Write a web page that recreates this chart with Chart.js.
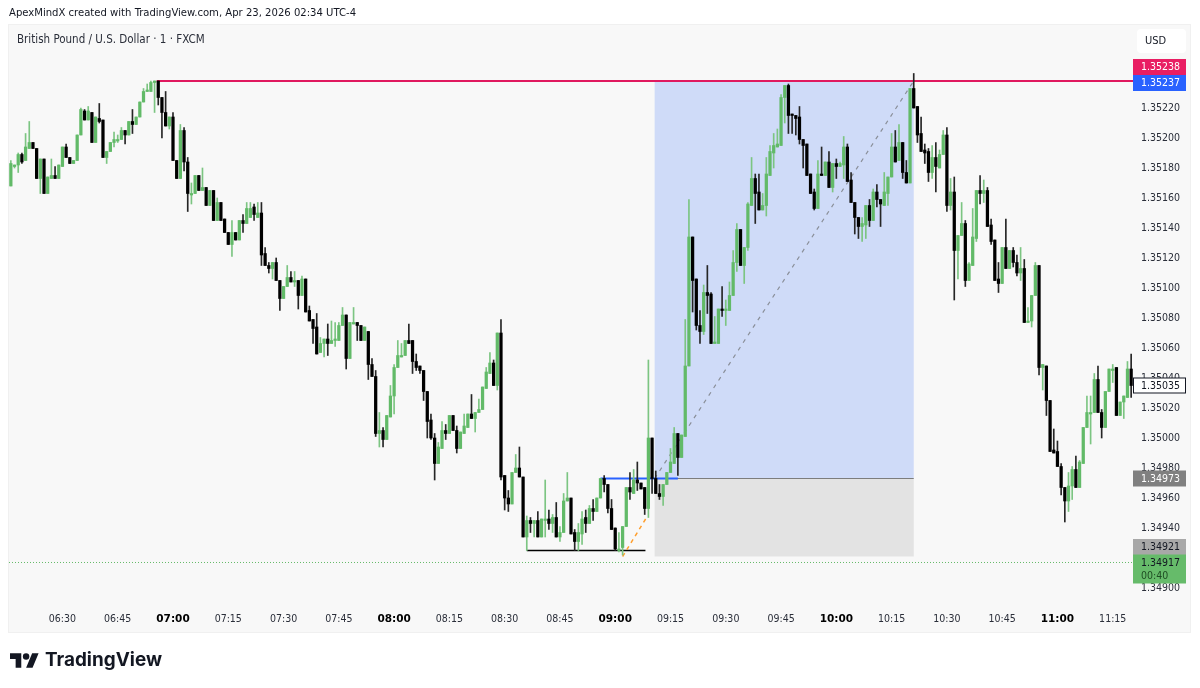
<!DOCTYPE html>
<html>
<head>
<meta charset="utf-8">
<script src="https://cdn.jsdelivr.net/npm/chart.js@4/dist/chart.umd.min.js"></script>
<style>
html,body{margin:0;padding:0;background:#fff;width:1200px;height:688px;overflow:hidden}
#c{position:absolute;left:0;top:0}
.t{position:absolute;white-space:nowrap;font-family:"DejaVu Sans Condensed","DejaVu Sans",sans-serif;color:#131722}
#hdr{left:9px;top:6px;font-size:11.2px;line-height:14px}
#ttl{left:17px;top:32px;font-size:11.5px;line-height:14px;color:#2a2e39}
#logoT{left:45px;top:646px;font:700 18.9px/28px Inter,sans-serif;color:#131722}
#logoI{position:absolute;left:10px;top:653px}
</style>
</head>
<body>
<canvas id="c" width="1200" height="688"></canvas>
<div class="t" id="hdr">ApexMindX created with TradingView.com, Apr 23, 2026 02:34 UTC-4</div>
<div class="t" id="ttl">British Pound / U.S. Dollar · 1 · FXCM</div>
<svg id="logoI" width="29" height="15" viewBox="0 4 36 18"><path fill="#131722" d="M14 22H7V11H0V4h14v18zM28 22h-8l7.5-18h8L28 22z"/><circle fill="#131722" cx="20" cy="8" r="4"/></svg>
<div class="t" id="logoT">TradingView</div>
<script>
// Prices in pipettes (1 = 0.00001), one per 1-minute candle starting 06:16
const firstMinute = 6*60+16;
const opens = [
135168,135181,135182,135189,135185,135193,135197,135193,135173,135186,
135163,135173,135175,135173,135181,135194,135187,135183,135185,135202,
135218,135212,135217,135197,135213,135212,135187,135191,135197,135198,
135199,135205,135202,135211,135209,135214,135224,135231,135231,135237,
135238,135227,135217,135208,135214,135185,135173,135205,135184,135162,
135163,135175,135165,135167,135155,135165,135145,135157,135146,135137,
135129,135137,135132,135145,135143,135147,135154,135147,135150,135123,
135115,135113,135117,135105,135093,135101,135107,135104,135105,135095,
135106,135085,135079,135074,135057,135063,135066,135063,135065,135065,
135075,135082,135053,135076,135077,135075,135065,135071,135049,135041,
135003,135005,134999,135014,135028,135047,135054,135055,135065,135065,
135051,135048,135045,135031,135012,135000,134983,134993,135005,135003,
135015,135005,134993,135003,135007,135016,135013,135017,135019,135033,
135043,135050,135035,135070,134975,134960,134956,134977,134980,134974,
134934,134945,134943,134945,134934,134945,134946,134943,134947,134934,
134937,134958,134960,134937,134931,134936,134947,134943,134953,134951,
134960,134973,134969,134953,134940,134925,134927,134941,134967,134963,
134972,134970,134967,134953,135000,134973,134963,134961,134969,134977,
134983,135003,134987,135001,135048,135134,135106,135075,135071,135097,
135096,135063,135063,135086,135085,135085,135095,135117,135139,135115,
135127,135155,135173,135164,135152,135155,135175,135190,135194,135195,
135227,135235,135216,135215,135214,135199,135196,135176,135164,135153,
135176,135175,135184,135167,135183,135181,135182,135194,135172,135157,
135147,135141,135142,135155,135145,135164,135159,135155,135163,135174,
135194,135185,135197,135177,135170,135233,135221,135203,135192,135191,
135177,135187,135180,135189,135202,135155,135164,135125,135135,135143,
135105,135115,135133,135165,135163,135165,135142,135132,135106,135103,
135127,135113,135125,135117,135110,135113,135077,135078,135095,135115,
135047,135048,135025,134992,134991,134981,134967,134958,134968,134979,
134967,134983,135007,135016,135017,135039,135017,135007,135031,135045,
135047,135015,135024,135027,135046];
const closes = [
135183,135182,135189,135184,135194,135197,135193,135173,135186,135163,
135174,135175,135173,135182,135194,135187,135183,135185,135202,135219,
135212,135218,135197,135214,135211,135187,135191,135197,135199,135199,
135205,135202,135211,135209,135214,135224,135231,135232,135237,135238,
135227,135217,135208,135214,135185,135173,135205,135184,135163,135163,
135175,135165,135167,135155,135165,135145,135157,135145,135137,135129,
135137,135132,135145,135143,135153,135153,135149,135150,135122,135115,
135113,135117,135105,135093,135101,135107,135104,135105,135095,135106,
135084,135078,135073,135056,135063,135066,135063,135065,135066,135075,
135082,135053,135077,135077,135075,135065,135074,135049,135041,135003,
135005,134999,135015,135028,135047,135055,135055,135065,135063,135051,
135047,135045,135031,135011,135000,134983,134994,135005,135003,135015,
135005,134993,135004,135008,135016,135013,135017,135019,135034,135044,
135050,135035,135070,134974,134960,134956,134977,134980,134974,134934,
134945,134943,134945,134934,134946,134946,134943,134947,134934,134937,
134958,134960,134936,134931,134937,134946,134943,134953,134951,134960,
134973,134969,134953,134939,134926,134926,134941,134967,134964,134972,
134970,134966,134953,135000,134973,134963,134961,134969,134977,134984,
135003,134987,135002,135048,135134,135105,135075,135071,135097,135095,
135063,135064,135086,135085,135086,135095,135117,135139,135115,135127,
135156,135173,135163,135152,135155,135176,135191,135195,135196,135227,
135235,135215,135215,135213,135199,135195,135175,135163,135153,135176,
135175,135184,135167,135183,135181,135183,135194,135171,135157,135147,
135141,135143,135155,135145,135164,135159,135156,135164,135174,135194,
135184,135197,135177,135170,135233,135220,135202,135191,135190,135177,
135187,135181,135189,135202,135155,135164,135125,135135,135143,135105,
135116,135134,135165,135163,135165,135141,135131,135105,135103,135127,
135113,135125,135117,135110,135113,135077,135078,135095,135115,135047,
135049,135025,134991,134990,134981,134967,134958,134968,134979,134967,
134984,135007,135017,135017,135039,135017,135007,135031,135046,135046,
135015,135024,135028,135046,135035];
const highs = [
135185,135182,135190,135190,135203,135211,135197,135193,135186,135186,
135174,135186,135181,135182,135194,135196,135187,135185,135202,135220,
135219,135221,135217,135214,135223,135212,135191,135197,135204,135202,
135207,135205,135211,135219,135214,135224,135233,135236,135238,135238,
135238,135227,135231,135214,135217,135185,135209,135207,135187,135170,
135175,135175,135180,135167,135165,135165,135160,135157,135146,135137,
135145,135137,135145,135149,135157,135157,135156,135157,135157,135127,
135117,135117,135120,135105,135101,135115,135111,135111,135105,135108,
135106,135088,135079,135083,135067,135066,135076,135078,135077,135077,
135087,135082,135077,135087,135077,135075,135074,135071,135053,135045,
135017,135007,135015,135035,135049,135065,135063,135065,135076,135065,
135056,135048,135045,135031,135016,135003,134997,135011,135009,135015,
135015,135008,135004,135016,135016,135029,135017,135026,135034,135047,
135057,135052,135070,135079,134975,134965,134977,134989,134994,134974,
134948,134947,134945,134951,134946,134972,134952,134949,134957,134941,
134963,134977,134960,134939,134943,134951,134952,134955,134959,134960,
134973,134975,134969,134959,134940,134937,134941,134967,134977,134979,
134984,134970,134967,135052,135000,134978,134969,134969,134977,134993,
135007,135003,135002,135079,135159,135134,135106,135085,135102,135115,
135097,135081,135086,135101,135092,135104,135125,135143,135139,135127,
135157,135187,135176,135176,135163,135187,135195,135203,135206,135229,
135235,135236,135216,135215,135221,135199,135196,135176,135166,135185,
135194,135184,135191,135183,135186,135184,135201,135196,135177,135157,
135147,135147,135155,135159,135166,135169,135159,135177,135174,135203,
135205,135209,135197,135185,135233,135243,135221,135214,135196,135193,
135195,135197,135192,135205,135207,135173,135174,135135,135157,135145,
135117,135153,135165,135175,135172,135167,135146,135132,135117,135127,
135146,135125,135127,135122,135127,135119,135087,135095,135117,135115,
135049,135048,135025,135006,134998,134983,134967,134977,134981,134988,
134985,135007,135028,135028,135043,135048,135019,135031,135046,135049,
135047,135024,135028,135051,135056];
const lows = [
135168,135180,135177,135183,135185,135193,135193,135173,135163,135163,
135163,135173,135173,135173,135181,135187,135183,135183,135185,135202,
135212,135212,135197,135197,135210,135187,135183,135191,135194,135197,
135199,135196,135202,135203,135209,135214,135224,135231,135231,135217,
135222,135200,135208,135206,135185,135173,135173,135178,135151,135156,
135163,135165,135165,135155,135155,135145,135145,135145,135137,135129,
135121,135132,135132,135137,135143,135147,135145,135147,135115,135115,
135110,135106,135105,135085,135093,135101,135104,135101,135086,135095,
135084,135078,135063,135056,135057,135054,135055,135063,135061,135065,
135075,135046,135053,135076,135065,135065,135065,135039,135041,135001,
134994,134994,134999,135014,135016,135047,135054,135055,135063,135043,
135045,135043,135025,135000,134999,134972,134983,134993,134999,135003,
135005,134990,134993,135003,135007,135013,135004,135017,135019,135033,
135043,135035,135032,134972,134952,134951,134956,134977,134974,134934,
134925,134937,134934,134934,134934,134934,134939,134937,134934,134931,
134937,134958,134936,134925,134925,134929,134937,134943,134945,134951,
134960,134964,134950,134939,134925,134924,134922,134941,134959,134963,
134965,134966,134949,134947,134963,134963,134959,134955,134969,134977,
134983,134975,134987,135001,135048,135084,135072,135063,135069,135083,
135063,135063,135063,135081,135075,135085,135095,135111,135115,135103,
135125,135155,135143,135152,135152,135148,135175,135180,135194,135195,
135210,135203,135203,135202,135196,135180,135175,135163,135152,135153,
135175,135175,135167,135164,135173,135181,135173,135171,135157,135136,
135133,135131,135133,135141,135145,135154,135141,135155,135155,135174,
135184,135185,135173,135170,135170,135220,135197,135191,135183,135171,
135173,135164,135180,135189,135151,135152,135092,135106,135135,135101,
135105,135115,135131,135156,135157,135141,135129,135105,135097,135103,
135113,135113,135114,135108,135105,135077,135077,135074,135095,135042,
135032,135015,134991,134990,134981,134962,134944,134951,134959,134967,
134967,134983,135007,134996,135017,135017,135000,135007,135031,135037,
135015,135015,135013,135027,135027];

const priceTicks = [135220,135200,135180,135160,135140,135120,135100,135080,135060,135040,135020,135000,134980,134960,134940,134900];
const axisMin = 134890, axisMax = 135275.33;

const resistance = 135238, entry = 134973, stop = 134921, swingLow = 134925, lastPrice = 134917;
const positionStart = 174.7, positionEnd = 245, resistanceStart = 39.6;
const swingStart = 140, swingEnd = 172.2, breakStart = 160, breakEnd = 181;
const fibFrom = [166, 134921], fibTo = [172.5, 134947];
const priceLabels = [
  {text:'1.35238', value:135238, bg:'#e91e63', fg:'#fff', dy:-22},
  {text:'1.35237', value:135237, bg:'#2962ff', fg:'#fff', dy:-7.5},
  {text:'1.34973', value:134973, bg:'#808080', fg:'#fff', dy:-8},
  {text:'1.34921', value:134921, bg:'#a8a8a8', fg:'#131722', dy:-17.5}
];

const UP='#62ba68', UPW='#7cc582', DOWN='#000000', DOWNW='#262626';
const labels = opens.map((_,i)=>{
  const m = firstMinute+i, h = Math.floor(m/60), mm = m%60;
  return String(h).padStart(2,'0')+':'+String(mm).padStart(2,'0');
});
const isUp = opens.map((o,i)=>closes[i]>=o);
const FONT = '"DejaVu Sans Condensed","DejaVu Sans",sans-serif';

function line(ctx,x1,y1,x2,y2,color,width,dash){
  ctx.save();ctx.beginPath();ctx.strokeStyle=color;ctx.lineWidth=width;ctx.setLineDash(dash||[]);
  ctx.moveTo(x1,y1);ctx.lineTo(x2,y2);ctx.stroke();ctx.restore();
}
const overlay = {
  id:'overlay',
  beforeDraw(chart){
    const c=chart.ctx;
    c.save();c.fillStyle='#f8f8f8';c.fillRect(9,25,1181,607);
    c.strokeStyle='#f0f0f0';c.lineWidth=1;c.strokeRect(8.5,24.5,1182,608);c.restore();
  },
  beforeDatasetsDraw(chart){
    const c=chart.ctx,x=chart.scales.x,y=chart.scales.y,a=chart.chartArea;
    const xl=x.getPixelForValue(positionStart),xr=x.getPixelForValue(positionEnd);
    const yt=y.getPixelForValue(resistance),ye=y.getPixelForValue(entry),ys=y.getPixelForValue(stop);
    c.save();
    c.fillStyle='#cfdbf8';c.fillRect(xl,yt,xr-xl,ye-yt);
    c.fillStyle='#e3e3e3';c.fillRect(xl,ye,xr-xl,ys-ye);
    c.restore();
    line(c,xl,ye,xr,ye,'#7d7d7d',1.2);
    line(c,xl,ye,xr,yt,'#8a8f99',1.2,[4,5]);
    line(c,x.getPixelForValue(resistanceStart),yt,a.right,yt,'#e0195f',2);
    const sl=y.getPixelForValue(swingLow);
    line(c,x.getPixelForValue(swingStart),sl,x.getPixelForValue(swingEnd),sl,'#000',1.3);
    line(c,x.getPixelForValue(breakStart),ye,x.getPixelForValue(breakEnd),ye,'#2962ff',2);
    line(c,x.getPixelForValue(fibFrom[0]),y.getPixelForValue(fibFrom[1]),x.getPixelForValue(fibTo[0]),y.getPixelForValue(fibTo[1]),'#ff9f2e',1.5,[4,4]);
    const lp=y.getPixelForValue(lastPrice);
    line(c,a.left,lp,a.right,lp,'#66bb6a',1,[1,2]);
  },
  afterDraw(chart){
    const c=chart.ctx,y=chart.scales.y,a=chart.chartArea,L=a.right,W=53;
    c.save();
    c.font='10.5px '+FONT;c.textBaseline='middle';c.textAlign='center';
    // last close box
    const cp=y.getPixelForValue(closes[closes.length-1]);
    c.fillStyle='#fff';c.fillRect(L+.5,cp-7.5,52,15);
    c.strokeStyle='#131722';c.lineWidth=1;c.strokeRect(L+.5,cp-7.5,52,15);
    c.fillStyle='#131722';c.fillText((closes[closes.length-1]/1e5).toFixed(5),L+W/2+1,cp+.5);
    priceLabels.forEach(p=>{
      const top=y.getPixelForValue(p.value)+p.dy;
      c.fillStyle=p.bg;c.fillRect(L,top,W,16);
      c.fillStyle=p.fg;c.fillText(p.text,L+W/2+1,top+8.5);
    });
    // current price countdown
    const lp=y.getPixelForValue(lastPrice);
    c.fillStyle='#66bb6a';c.fillRect(L,lp-8,W,29);
    c.fillStyle='#131722';c.fillText('1.34917',L+W/2+1,lp+.5);
    c.textAlign='left';c.fillStyle='#1f4d23';c.fillText('00:40',L+8,lp+13.5);
    // currency button
    c.fillStyle='#fff';c.beginPath();c.roundRect(1137,29,49,24,4);c.fill();
    c.fillStyle='#131722';c.textAlign='left';c.font='11px '+FONT;c.fillText('USD',1145,41.5);
    c.restore();
  }
};

new Chart(document.getElementById('c'),{
  type:'bar',
  plugins:[overlay],
  data:{labels,datasets:[
    {label:'wick',data:labels.map((_,i)=>[lows[i],highs[i]]),grouped:false,barThickness:1,minBarLength:1,order:2,
     backgroundColor:isUp.map(u=>u?UPW:DOWNW)},
    {label:'body',data:labels.map((_,i)=>[Math.min(opens[i],closes[i]),Math.max(opens[i],closes[i])]),grouped:false,barThickness:2.6,minBarLength:1,order:1,
     backgroundColor:isUp.map(u=>u?UP:DOWN)}
  ]},
  options:{
    responsive:false,animation:false,devicePixelRatio:1,
    layout:{padding:{left:9,right:10,top:25,bottom:56}},
    plugins:{legend:{display:false},tooltip:{enabled:false}},
    scales:{
      x:{
        grid:{display:false,drawTicks:false},border:{display:false},offset:true,
        afterFit(s){s.height=29;},
        ticks:{autoSkip:false,maxRotation:0,minRotation:0,padding:10,
          color(ctx){return (labels[ctx.tick.value]||'').endsWith(':00')?'#000':'#2a2e39';},
          font(ctx){const bold=(labels[ctx.tick.value]||'').endsWith(':00');return {family:bold?'"DejaVu Sans"':FONT,size:bold?10.5:10.5,weight:bold?700:400};},
          callback(v,i){const l=labels[i];return Number(l.slice(3))%15===0?l:null;}
        }
      },
      y:{
        position:'right',min:axisMin,max:axisMax,
        grid:{display:false,drawTicks:false},border:{display:false},
        afterFit(s){s.width=57;},
        afterBuildTicks(s){s.ticks=priceTicks.map(v=>({value:v}));},
        ticks:{autoSkip:false,padding:8,color:'#2a2e39',font:{family:FONT,size:10.5},
          callback(v){return (v/1e5).toFixed(5);}
        }
      }
    }
  }
});
</script>
</body>
</html>
